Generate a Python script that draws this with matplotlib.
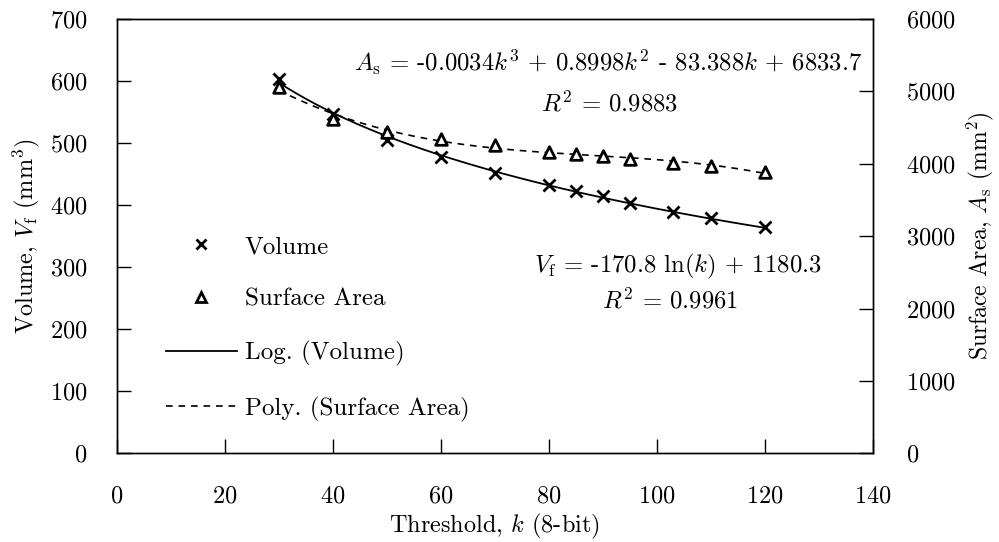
import numpy as np
import matplotlib
matplotlib.use("Agg")
import matplotlib.pyplot as plt
from matplotlib.lines import Line2D

plt.rcParams['font.family'] = 'cmr10'
plt.rcParams['mathtext.fontset'] = 'cm'
plt.rcParams['axes.formatter.use_mathtext'] = True
plt.rcParams['axes.unicode_minus'] = False

# threshold values (8-bit)
threshold = [30, 40, 50, 60, 70, 80, 85, 90, 95, 103, 110, 120]
# volume, mm^3
volume = [604, 547, 505, 478, 452, 432, 422, 414, 404, 389, 380, 364]
# surface area, mm^2
surface_area = [5065, 4615, 4443, 4338, 4260, 4167, 4135, 4108, 4062, 4007, 3969, 3891]

x_ticks = [0, 20, 40, 60, 80, 100, 120, 140]
v_ticks = [0, 100, 200, 300, 400, 500, 600, 700]
a_ticks = [0, 1000, 2000, 3000, 4000, 5000, 6000]

k = np.array(threshold, dtype=float)
v = np.array(volume, dtype=float)
a = np.array(surface_area, dtype=float)

# trend lines fitted to the points (log for volume, cubic for area)
log_fit = np.polyfit(np.log(k), v, 1)
poly_fit = np.polyfit(k, a, 3)
kk = np.linspace(k.min(), k.max(), 200)

fig = plt.figure(figsize=(9.99, 5.42), dpi=100)
ax = fig.add_axes([0.1168, 0.1637, 0.757, 0.8013])
ax2 = ax.twinx()

ax.plot(kk, np.polyval(log_fit, np.log(kk)), color='black', lw=1.3)
ax.scatter(k, v, marker='x', s=75, color='black', linewidths=2.0, zorder=3)
ax2.plot(kk, np.polyval(poly_fit, kk), color='black', lw=1.2, linestyle=(0, (4, 3.5)))
ax2.scatter(k, a, marker='^', s=70, facecolors='white', edgecolors='black', linewidths=2.0, zorder=3)

ax.set_xlim(0, 140)
ax.set_ylim(0, 700)
ax2.set_ylim(0, 6000)
ax.set_xticks(x_ticks)
ax.set_yticks(v_ticks)
ax2.set_yticks(a_ticks)

ax.tick_params(axis='x', direction='in', length=10, width=1.0, labelsize=17.5, pad=23)
ax.tick_params(axis='y', direction='in', length=10, width=1.0, labelsize=17.5, pad=21)
ax2.tick_params(axis='y', direction='in', length=10, width=1.0, labelsize=17.5, pad=24)
for sp in list(ax.spines.values()) + list(ax2.spines.values()):
    sp.set_linewidth(1.0)

ax.set_xlabel(r'Threshold, $k$ (8-bit)', fontsize=17.5, labelpad=3)
ax.set_ylabel(r'Volume, $V_\mathrm{f}$ (mm$^3$)', fontsize=17.5, labelpad=6)
ax2.set_ylabel(r'Surface Area, $A_\mathrm{s}$ (mm$^2$)', fontsize=17, labelpad=6)

# fit equations
ax.text(0.986, 0.901, r'$A_\mathrm{s}$ = -0.0034$k^3$ + 0.8998$k^2$ - 83.388$k$ + 6833.7',
        transform=ax.transAxes, ha='right', va='center', fontsize=17.8)
ax.text(0.652, 0.806, r'$R^2$ = 0.9883', transform=ax.transAxes, ha='center', va='center', fontsize=17.8)
ax.text(0.932, 0.43, r'$V_\mathrm{f}$ = -170.8 ln($k$) + 1180.3',
        transform=ax.transAxes, ha='right', va='center', fontsize=17.8)
ax.text(0.732, 0.351, r'$R^2$ = 0.9961', transform=ax.transAxes, ha='center', va='center', fontsize=17.8)

handles = [
    Line2D([], [], marker='x', color='black', linestyle='none', markersize=7, markeredgewidth=2.0),
    Line2D([], [], marker='^', color='black', markerfacecolor='white', linestyle='none',
           markersize=7, markeredgewidth=2.0),
    Line2D([], [], color='black', lw=1.3),
    Line2D([], [], color='black', lw=1.2, linestyle=(0, (4, 3.5))),
]
labels = ['Volume', 'Surface Area', 'Log. (Volume)', 'Poly. (Surface Area)']
ax2.legend(handles, labels, loc='center left', bbox_to_anchor=(0.0648, 0.287), frameon=False,
           fontsize=18, handlelength=2.85, handletextpad=0.32, labelspacing=1.21,
           borderpad=0, borderaxespad=0)

fig.savefig('out.png', dpi=100)
